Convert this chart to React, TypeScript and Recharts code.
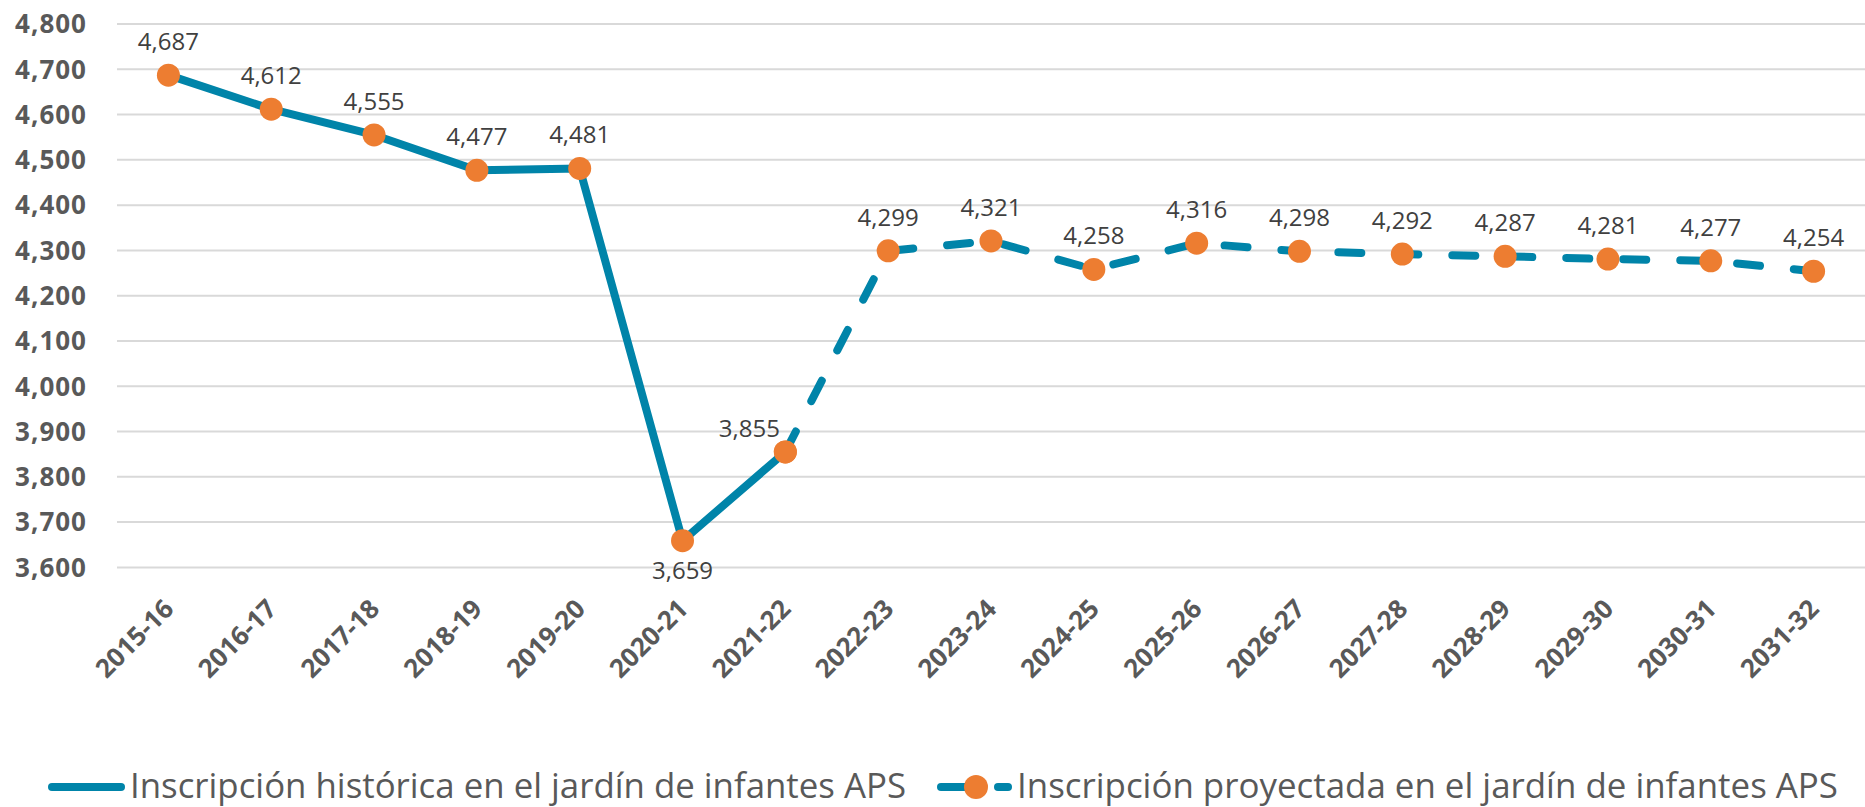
import React from "react";
import { LineChart, Line, XAxis, YAxis, CartesianGrid, LabelList } from "recharts";

const categories = [
  "2015-16", "2016-17", "2017-18", "2018-19", "2019-20", "2020-21", "2021-22", "2022-23", "2023-24",
  "2024-25", "2025-26", "2026-27", "2027-28", "2028-29", "2029-30", "2030-31", "2031-32",
];
const historical = [4687, 4612, 4555, 4477, 4481, 3659, 3855, null, null, null, null, null, null, null, null, null, null];
const projected = [null, null, null, null, null, null, 3855, 4299, 4321, 4258, 4316, 4298, 4292, 4287, 4281, 4277, 4254];
const yTicks = [3600, 3700, 3800, 3900, 4000, 4100, 4200, 4300, 4400, 4500, 4600, 4700, 4800];

const LINE = "#0084A9";
const DOT = "#ED7D31";
const FONT = "'Open Sans', sans-serif";

const data = categories.map((cat, i) => ({ cat, historical: historical[i], projected: projected[i] }));

const fmt = (v: number) => v.toLocaleString("en-US");

const Dot = (props: any) => {
  const { cx, cy, value } = props;
  if (value == null || cx == null) return null;
  return <circle cx={cx} cy={cy} r={11.5} fill={DOT} />;
};

const makeLabel = (skip: number[]) => (props: any) => {
  const { x, y, value, index } = props;
  if (value == null || skip.includes(index)) return null;
  let lx = x;
  let ly = y - 25;
  if (index === 5 && value < 3700) ly = y + 38;
  if (index === 6) {
    lx = x - 36;
    ly = y - 15;
  }
  return (
    <text x={lx} y={ly} textAnchor="middle" fontFamily={FONT} fontSize={24} fill="#404040">
      {fmt(value)}
    </text>
  );
};

const YTick = (props: any) => {
  const { x, y, payload } = props;
  return (
    <text x={x} y={y} dy="0.36em" textAnchor="end" fontFamily={FONT} fontSize={26} fontWeight={700}
      letterSpacing={1} fill="#595959">
      {fmt(payload.value)}
    </text>
  );
};

const XTick = (props: any) => {
  const { x, y, payload } = props;
  const ax = x + 7;
  const ay = y + 43;
  return (
    <text x={ax} y={ay} textAnchor="end" fontFamily={FONT} fontSize={26} fontWeight={700} fill="#595959"
      transform={`rotate(-45, ${ax}, ${ay})`}>
      {payload.value}
    </text>
  );
};

const Legend = () => (
  <svg width={1865} height={67} style={{ position: "absolute", left: 0, top: 740, display: "block" }}>
    <line x1={52} y1={47} x2={121} y2={47} stroke={LINE} strokeWidth={8} strokeLinecap="round" />
    <text x={130} y={58} fontFamily={FONT} fontSize={35} fill="#595959" textLength={776} lengthAdjust="spacingAndGlyphs">
      Inscripción histórica en el jardín de infantes APS
    </text>
    <line x1={941} y1={47} x2={970} y2={47} stroke={LINE} strokeWidth={8} strokeLinecap="round" />
    <line x1={998} y1={47} x2={1008} y2={47} stroke={LINE} strokeWidth={8} strokeLinecap="round" />
    <circle cx={976} cy={47} r={12} fill={DOT} />
    <text x={1017} y={58} fontFamily={FONT} fontSize={35} fill="#595959" textLength={821} lengthAdjust="spacingAndGlyphs">
      Inscripción proyectada en el jardín de infantes APS
    </text>
  </svg>
);

export default function App() {
  return (
    <div style={{ position: "absolute", left: 0, top: 0, width: 1865, height: 807, background: "#fff", overflow: "hidden" }}>
      <LineChart width={1865} height={710} data={data} margin={{ top: 24, right: 0, bottom: 0, left: 0 }}>
        <CartesianGrid vertical={false} stroke="#D9D9D9" strokeWidth={2} />
        <XAxis dataKey="cat" interval={0} tickLine={false} axisLine={false} tickSize={0} tickMargin={0}
          height={142.6} padding={{ left: 51.4, right: 51.4 }} tick={<XTick />} />
        <YAxis domain={[3600, 4800]} ticks={yTicks} width={117} tickLine={false} axisLine={false}
          tickSize={0} tickMargin={30} tick={<YTick />} />
        <Line dataKey="projected" stroke={LINE} strokeWidth={8} strokeDasharray="23 34" strokeLinecap="round"
          dot={<Dot />} activeDot={false} isAnimationActive={false} connectNulls={false}>
          <LabelList dataKey="projected" content={makeLabel([6])} />
        </Line>
        <Line dataKey="historical" stroke={LINE} strokeWidth={8} strokeLinejoin="round"
          dot={<Dot />} activeDot={false} isAnimationActive={false} connectNulls={false}>
          <LabelList dataKey="historical" content={makeLabel([])} />
        </Line>
      </LineChart>
      <Legend />
    </div>
  );
}
